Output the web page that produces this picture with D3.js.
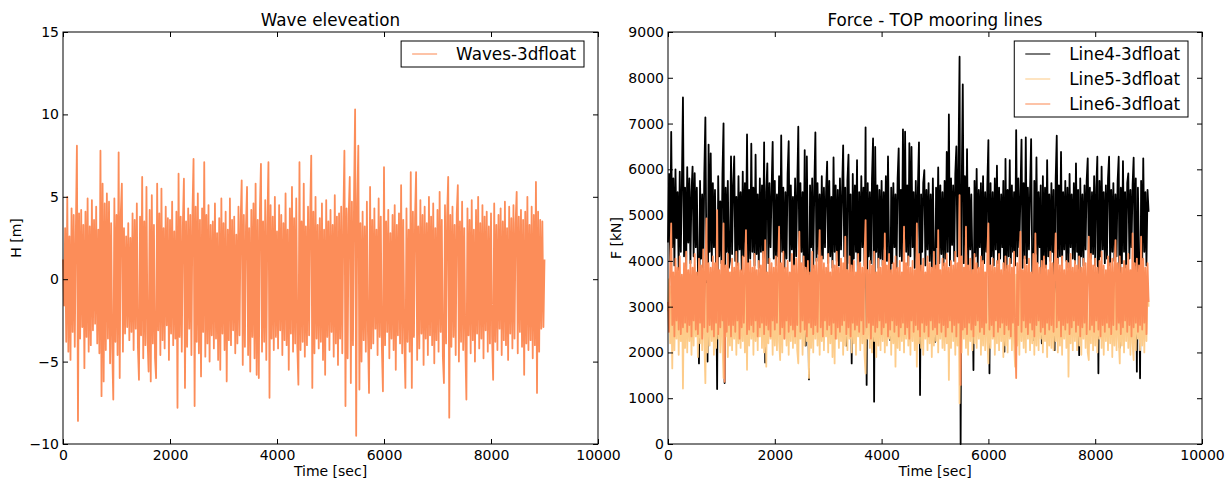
<!DOCTYPE html>
<html>
<head>
<meta charset="utf-8">
<script src="https://cdn.jsdelivr.net/npm/d3@7"></script>
<style>
  body { margin: 0; background: #fff; }
  svg { font-family: "DejaVu Sans", sans-serif; }
</style>
</head>
<body>
<svg id="chart" width="1227" height="481"></svg>
<script>
"use strict";

// sample interval of all records [sec]
const DT = 20;

const timeTicks = [0, 2000, 4000, 6000, 8000, 10000];
const waveTicks = [-10, -5, 0, 5, 10, 15];
const forceTicks = [0, 1000, 2000, 3000, 4000, 5000, 6000, 7000, 8000, 9000];

// wave elevation [m]
const waveH = [
  1.2,-1.6,3.1,-3.8,5.0,-4.4,2.6,-4.9,4.3,-3.2,3.9,-4.1,2.8,8.1,-8.6,4.0,-3.6,4.2,-2.9,3.3,
  -5.4,4.1,-3.5,4.9,-4.4,3.2,-4.0,4.8,-3.1,3.6,-2.7,4.4,-3.9,3.0,-4.5,7.8,-7.1,5.8,-6.2,4.6,
  -4.3,5.2,-3.6,4.7,-5.1,3.4,-4.2,-7.3,4.9,-3.8,3.9,-4.6,7.7,-6.0,4.0,5.8,-4.4,3.1,-3.3,2.6,
  -2.9,3.4,-3.7,2.5,-3.2,4.0,-4.3,3.6,-3.0,4.6,-4.1,-6.1,3.8,-3.4,6.2,-4.8,3.5,-4.0,5.6,-3.6,
  -5.6,4.2,-6.2,5.1,-3.9,3.3,-4.8,-6.0,5.8,-3.1,4.0,-4.6,5.5,-3.7,3.1,-4.2,4.4,-2.8,3.7,-4.9,
  3.6,-3.3,4.7,-4.0,2.9,-3.6,4.1,-7.8,6.4,-3.5,3.8,-4.4,3.2,6.1,-6.6,3.5,-4.1,4.3,-3.0,3.9,
  -4.6,4.0,7.3,-7.7,4.4,-3.8,5.2,-4.5,3.6,-5.9,4.3,-3.2,7.1,-4.7,3.9,-3.9,4.5,-5.0,3.3,-3.4,
  3.5,-4.2,4.6,-3.6,2.8,-4.9,3.7,-5.5,4.9,-3.3,3.4,-4.3,4.1,-6.2,3.0,-3.7,4.9,-4.0,3.6,-3.1,
  3.8,-4.5,2.7,-3.9,4.4,-3.4,3.5,6.0,-5.2,3.9,-4.1,3.2,5.6,-4.6,3.1,-5.6,4.2,-3.5,4.6,-4.8,
  5.8,-5.8,3.6,-6.0,4.1,7.0,-4.4,3.5,-3.8,4.8,-4.9,3.3,7.1,-7.2,4.5,-3.6,3.8,-4.3,5.0,-3.5,
  2.9,-4.2,4.5,-3.1,3.9,-4.6,3.4,-3.7,5.2,-4.0,3.0,-5.5,4.3,-3.3,5.6,-4.4,3.7,-3.9,4.9,-4.1,
  -6.4,7.1,-4.3,3.5,-3.8,5.8,-4.7,3.2,-4.0,4.4,-3.4,3.9,7.5,-6.6,4.1,-4.5,5.0,-3.6,3.3,-4.2,
  3.7,-3.8,4.6,-4.9,3.0,-5.8,4.8,-3.5,3.5,-4.3,4.2,-3.2,3.3,-4.7,5.1,-3.9,3.8,-5.2,4.0,-3.6,
  4.4,-4.5,3.6,7.8,-7.7,4.3,-4.8,3.9,6.2,-6.3,4.7,-4.0,5.0,10.3,-9.5,4.6,8.1,-6.7,3.4,-5.0,
  4.1,-3.7,3.2,-4.4,4.7,-3.3,-6.9,5.6,-4.2,3.6,-3.9,4.3,-3.0,3.0,-4.6,4.9,-3.5,3.8,-4.1,-6.8,
  6.8,-4.0,3.5,-3.2,4.2,-4.8,2.8,-3.6,3.9,-4.3,4.5,-5.5,3.3,-3.4,4.0,-3.9,5.7,-4.5,3.6,-3.7,
  -6.6,4.3,-3.8,3.0,-4.4,6.5,-6.6,4.1,-3.5,3.7,6.5,-4.9,3.2,-4.2,4.8,-3.3,3.9,-5.2,4.4,-3.6,
  3.4,-4.6,5.0,-3.4,3.8,-4.0,4.6,-5.1,3.1,-3.7,4.2,-4.4,5.3,-3.2,3.6,-4.7,-6.3,4.5,-3.9,3.8,
  6.2,-8.4,3.9,-4.1,4.4,-3.5,3.3,-4.6,4.0,5.7,-5.0,3.5,-3.8,4.7,-4.3,3.1,-3.9,-7.3,4.3,-3.4,
  3.6,-4.5,4.8,-3.7,3.0,-5.0,4.2,-3.3,5.0,-4.2,3.4,-3.6,4.5,-4.8,3.8,-3.1,4.1,-4.4,3.2,-3.9,
  4.0,-3.5,-6.1,4.6,-3.8,3.3,-4.3,3.9,-3.0,4.3,-4.6,3.5,-3.7,4.7,-4.0,3.1,-4.9,4.4,-3.3,3.7,
  -4.2,4.5,-3.6,3.4,5.3,-4.5,3.8,-3.2,4.2,-4.1,3.6,-5.8,4.1,-3.9,5.0,-4.3,3.3,-3.7,4.4,-4.8,
  3.9,-4.0,5.9,-6.9,4.1,-4.4,3.6,-3.0,3.5,-2.9,1.2
];

// top tension of mooring line 4 [kN]
const line4F = [
  4400,5900,4000,6820,4300,5800,3900,6000,4500,5500,3800,5950,4200,5700,7570,4100,5600,3850,6050,4400,
  5800,3950,5500,6060,4100,5915,4300,5600,3900,1760,5750,4050,5450,3850,5900,7135,3900,1800,6540,4200,
  6350,4000,5700,4300,5550,3900,1200,5850,4100,5300,3950,5900,7004,1330,5600,4200,5750,3850,4000,6280,
  4150,5650,6280,4000,5400,3900,5850,4250,5500,3800,5950,4100,5700,4300,6763,3950,5550,4050,6560,4200,
  5600,3900,6320,4150,5450,3850,5800,4200,5650,4000,6590,1780,5500,6130,3950,5700,4300,5550,6600,4050,
  5750,3900,5450,4100,5850,3950,6740,4200,5600,3850,5500,4050,5900,6613,4000,5650,4250,5400,3900,5800,
  4100,5550,6930,3950,5700,4200,5500,3900,6420,2150,6280,4050,1410,5650,4300,5800,3850,5600,6807,4000,
  5700,4150,5450,3900,5850,4050,5600,4300,5500,6170,3950,5750,4100,5400,3850,6260,4200,5650,4000,5550,
  3900,5800,4250,5500,6525,4100,5600,2150,5750,6320,3950,5450,1760,5900,4050,5650,4200,6200,2510,5500,
  4000,5850,4300,5600,3900,6917,1290,5700,4100,5500,3950,5800,6675,925,6490,4200,5650,3850,5550,4050,
  5750,3900,5500,4250,5850,4000,6280,4150,2270,5600,3950,5700,4300,5450,3850,5800,6460,4100,5550,4000,
  6873,3950,6821,4200,5650,3900,6570,4100,6490,4300,5500,3850,5750,4050,5600,6590,1070,5450,4200,5700,
  5980,3900,5550,4250,5700,4000,5450,3850,5800,4100,2230,5600,4300,6040,3950,5650,4150,5500,3900,5750,
  4050,6380,4200,7200,3900,5800,4350,5650,4000,5900,6500,4100,6200,8460,0,5600,7857,3950,5850,4200,
  6440,3900,5600,4250,5450,3950,1616,5750,4100,6010,3850,5550,4300,5700,4000,5850,3950,5500,4200,5650,
  6640,1543,5700,4100,5500,3900,5800,4250,6080,3950,5600,4050,5450,4300,5750,2016,6230,3850,5550,4100,
  6200,3950,5650,4200,5500,3900,6858,4100,5800,4300,5450,6650,3850,5700,4050,6698,3950,5600,4250,5550,
  6661,3900,2270,5750,4150,6260,3950,5500,4300,5650,2200,5850,4050,5600,3850,6200,4100,5450,4000,5700,
  4200,5550,2050,5800,6734,3950,5650,4100,6380,3900,5500,4250,5750,4000,5600,3850,5900,4300,5450,4050,
  5700,3950,6130,4200,5550,1940,5800,4100,5450,3900,5650,4250,5750,6240,3850,5600,4050,5500,4150,5850,
  3900,5600,6275,1543,5750,4100,6060,4250,5500,3950,5650,4050,5800,6275,3900,5550,4200,5700,4000,5450,
  4100,5750,6275,2100,5600,3950,6180,4200,5500,3850,5700,5910,4050,5550,4300,5650,6253,3900,5800,1580,
  5600,4100,1435,5750,3950,6240,4200,5500,3900,5550,5070
];

// top tension of mooring line 5 [kN]
const line5F = [
  2900,3600,2200,3450,1650,3700,2050,3350,2300,3800,1950,3500,2250,3650,1210,3400,2100,3750,2000,3550,
  2250,3300,1950,3700,2150,3550,2350,3450,1900,3800,2200,3350,2050,3650,2300,1330,3500,2000,3750,2150,
  3400,2250,3600,1950,3550,2100,3800,2300,3450,2000,3700,2200,1440,3350,2350,3650,1900,3500,2150,3750,
  2050,3450,2300,3600,1950,3550,2200,3750,2100,3400,2250,3650,2000,3500,1620,3800,2150,3350,2300,3600,
  1950,3700,2250,3450,2050,3550,2350,3800,2100,3400,2000,3650,1690,3500,2200,3750,2300,3350,1950,3600,
  2150,3450,2050,3700,2250,1834,3550,2000,3800,2300,3400,2150,3650,1950,3500,2250,3750,2100,3350,2200,
  3600,2050,1760,3500,2300,3700,1950,3450,2150,3800,2250,3550,1440,3650,2100,3400,2000,3750,2300,3500,
  2150,3600,1950,3450,2250,3800,2050,3550,2350,3400,2000,3700,2200,3650,1900,3500,1760,3750,2300,3350,
  2100,3550,2250,3700,1950,3450,2150,3800,2050,3600,2300,3400,2000,3650,2200,3500,1950,3750,2350,3450,
  2050,3700,2200,3550,1950,1540,3800,2300,3450,2100,3650,2000,3500,2250,3400,1900,3750,2150,3600,2050,
  3550,2250,3700,2000,3450,2150,3800,2300,3600,1950,3500,2200,3650,1690,3400,2100,3750,2050,3550,2250,
  3650,2000,3500,2300,3800,2150,3450,1950,3700,2250,3550,2050,3600,1690,3400,2200,3750,2100,3500,1950,
  3700,2300,3450,2050,3800,2200,3550,1900,3650,2150,3400,2250,3750,2000,3500,2300,3600,2100,3450,2050,
  3750,2200,3500,1400,3650,2100,3800,2250,3450,1950,3600,2150,3900,890,3550,2000,3700,2300,3450,2100,
  3550,1950,3700,2250,3450,2050,3800,2200,3600,2100,3500,2300,3650,1950,3400,2150,3750,2050,3550,2250,
  1760,3650,2100,3500,2300,3800,1950,3450,2200,3700,2050,3550,2250,3600,1900,3400,2150,3750,2000,3500,
  2300,3650,2050,3450,2200,1690,3700,2150,3550,1950,3800,2250,3400,2100,3600,2000,3750,2300,3500,2050,
  3450,2200,3700,1950,3550,2150,3800,2050,3400,2300,3650,2000,3500,2250,3750,1900,3600,2150,3450,2100,
  3700,2050,3550,2250,3400,2000,3800,2150,3650,1950,3500,2300,3600,2100,3750,1470,3450,2200,3700,2050,
  3550,2250,3400,2050,3800,2150,3600,1950,3700,2300,3450,2100,3650,2000,1834,3500,2200,3750,2050,3550,
  2150,3650,2000,3450,2300,3800,2100,3550,1950,3700,2250,3400,2050,3600,2200,3750,1900,3500,2150,3650,
  2050,3450,2300,1760,3700,2150,3550,2000,3800,2250,3400,2100,3650,1950,3500,2200,1834,3750,2050,3600,
  2300,3450,2050,3700,2150,3550,2000,3800,2250,3500,3000
];

// top tension of mooring line 6 [kN]
const line6F = [
  3100,2450,3900,4820,2600,3750,2350,4050,2700,3850,2500,4100,2400,3700,2550,3950,2650,4200,2450,3800,
  2600,4000,2350,3850,2700,4150,2500,3750,2400,4050,2650,3900,2300,4250,2550,3800,4928,2450,3950,2600,
  3850,2500,4100,2350,3950,2650,5110,2400,3800,2550,4000,2700,4819,1360,3900,2450,4150,2600,3750,2350,
  4050,2600,3850,2450,4200,2700,3950,2300,3800,2550,4100,2650,3700,4673,2400,3950,2500,4000,2600,3850,
  2450,4150,2700,3800,2350,4000,2550,3900,2650,4200,2400,4455,2600,3750,2500,4050,2350,3950,2700,3850,
  2500,4100,2650,3800,4746,2400,3950,2550,4200,2300,3850,2700,4000,2450,3750,2600,4150,2500,3900,2350,
  4050,2600,3800,4637,2450,3950,2700,4100,2500,3850,2350,4000,2650,3750,2550,4200,2400,3900,2600,4050,
  2450,3800,4673,2550,4100,2350,3950,2700,3850,2500,4150,2600,3750,2400,4000,2650,3900,2300,4200,2550,
  3850,2450,4050,2600,3950,2700,4528,2400,3800,2550,4100,2350,3900,2650,4000,2500,3750,2600,4150,2450,
  3950,2700,3850,2400,4100,4892,2550,3800,2650,4000,2300,3900,2600,4200,2450,3750,2550,4050,2700,3850,
  2400,4000,2550,4600,2650,3900,2350,4150,2500,3800,2700,3950,2450,4100,2600,3850,2350,4000,2550,3750,
  2650,4746,2400,3950,2550,4100,2300,3850,2700,4000,2450,3800,2600,4819,2500,4150,2350,3900,2650,4050,
  2450,3750,2600,4100,2350,3950,2700,3850,2500,4200,2550,3900,2400,4673,2650,3800,2450,4050,2600,3950,
  2350,4150,2550,3850,2700,4000,2450,3900,2600,4200,2350,3950,2650,5438,1290,4100,2500,3850,2550,4746,
  2400,3900,2650,4050,2500,3800,2350,4150,2600,3950,2700,3850,2450,4100,2550,4000,2400,3750,2650,4200,
  4819,2500,3900,2600,4050,2350,3850,2700,4000,2450,4150,2550,3800,2650,3950,2400,4100,2600,3900,2500,
  4050,2350,3850,2650,4200,2500,1440,3950,2600,4000,4637,2450,3800,2700,4100,2550,3900,2400,4050,2650,
  3750,2500,4150,2350,4600,2600,3950,2700,3850,2450,4000,2550,4100,2400,3900,2650,3800,2500,4200,2600,
  3950,2450,3850,4600,2550,4050,2700,3900,2350,4100,2600,3800,2500,4000,2650,3950,2400,4150,2550,3850,
  2700,4000,2450,3900,2600,4100,2350,3850,2550,4050,2650,3950,2400,3800,4528,2500,4150,2600,3900,2450,
  4050,2700,3850,2500,4000,2350,4200,2600,3900,2450,3800,2650,4100,2550,3950,2400,4050,2600,3850,4455,
  2500,3950,2650,4100,2400,3850,2550,4000,2700,3900,2450,4150,2600,3800,2350,4600,2550,3950,2650,4050,
  2450,3900,2600,4528,2500,4050,2650,3850,2400,3950,3100
];

const ORANGE = "#fc8d59";
const LIGHT = "#fdcc8a";

const svg = d3.select("#chart");
const PLOT_TOP = 32;
const PLOT_BOTTOM = 444;

function drawPanel(opts) {
  const g = svg.append("g");
  const x = d3.scaleLinear().domain([0, 10000]).range([opts.left, opts.right]);
  const y = d3.scaleLinear().domain(opts.yDomain).range([PLOT_BOTTOM, PLOT_TOP]);

  const line = d3.line()
    .x((d, i) => x(i * DT))
    .y(d => y(d));

  // dense records: a slightly wider stroke keeps the band solid like the original raster
  opts.series.forEach(s => {
    g.append("path")
      .datum(s.values)
      .attr("d", line)
      .attr("fill", "none")
      .attr("stroke", s.color)
      .attr("stroke-width", 1.8)
      .attr("stroke-linejoin", "round");
  });

  // axes with inward ticks on all four sides
  const fmt = d3.format("d");
  const bottom = g.append("g")
    .attr("transform", `translate(0,${PLOT_BOTTOM})`)
    .call(d3.axisBottom(x).tickValues(timeTicks).tickSize(-5).tickPadding(6).tickFormat(fmt));
  const top = g.append("g")
    .attr("transform", `translate(0,${PLOT_TOP})`)
    .call(d3.axisTop(x).tickValues(timeTicks).tickSize(-5).tickFormat(""));
  const left = g.append("g")
    .attr("transform", `translate(${opts.left},0)`)
    .call(d3.axisLeft(y).tickValues(opts.yTicks).tickSize(-5).tickPadding(4).tickFormat(d3.format("")));
  const right = g.append("g")
    .attr("transform", `translate(${opts.right},0)`)
    .call(d3.axisRight(y).tickValues(opts.yTicks).tickSize(-5).tickFormat(""));

  [bottom, top, left, right].forEach(a => {
    a.select(".domain").remove();
    a.selectAll("line").attr("stroke", "#000");
    a.selectAll("text")
      .attr("fill", "#000")
      .style("font-family", "DejaVu Sans")
      .style("font-size", "14px");
  });

  g.append("rect")
    .attr("x", opts.left)
    .attr("y", PLOT_TOP)
    .attr("width", opts.right - opts.left)
    .attr("height", PLOT_BOTTOM - PLOT_TOP)
    .attr("fill", "none")
    .attr("stroke", "#000")
    .attr("stroke-width", 1);

  const cx = (opts.left + opts.right) / 2;
  g.append("text")
    .attr("x", cx).attr("y", 26)
    .attr("text-anchor", "middle")
    .style("font-size", "16.8px")
    .text(opts.title);

  g.append("text")
    .attr("x", cx).attr("y", 476)
    .attr("text-anchor", "middle")
    .style("font-size", "14px")
    .text("Time [sec]");

  g.append("text")
    .attr("transform", `translate(${opts.ylabelX},${(PLOT_TOP + PLOT_BOTTOM) / 2}) rotate(-90)`)
    .attr("text-anchor", "middle")
    .style("font-size", "14px")
    .text(opts.ylabel);

  drawLegend(g, opts.series, opts.right - 14, PLOT_TOP + 9);
}

function drawLegend(g, items, rightX, topY) {
  const lg = g.append("g");
  const box = lg.append("rect");
  const rows = lg.selectAll("g.row")
    .data(items)
    .join("g")
    .attr("class", "row");

  const texts = rows.append("text")
    .style("font-size", "16.8px")
    .text(d => d.name);

  const maxW = d3.max(texts.nodes(), n => n.getComputedTextLength());
  const width = 11 + 25 + 19 + maxW + 8;
  const height = 1 + 25 * items.length;
  const x0 = rightX - width;

  box.attr("x", x0).attr("y", topY)
    .attr("width", width).attr("height", height)
    .attr("fill", "#fff").attr("stroke", "#000").attr("stroke-width", 1);

  rows.attr("transform", (d, i) => `translate(${x0},${topY + 13 + i * 25})`);
  rows.append("line")
    .attr("x1", 11).attr("x2", 36)
    .attr("stroke", d => d.color)
    .attr("stroke-opacity", 0.7)
    .attr("stroke-width", 1.5);
  texts.attr("x", 55).attr("y", 6);
}

drawPanel({
  left: 63, right: 598,
  yDomain: [-10, 15], yTicks: waveTicks,
  title: "Wave eleveation", ylabel: "H [m]", ylabelX: 21,
  series: [{ name: "Waves-3dfloat", values: waveH, color: ORANGE }]
});

drawPanel({
  left: 668, right: 1202,
  yDomain: [0, 9000], yTicks: forceTicks,
  title: "Force - TOP mooring lines", ylabel: "F [kN]", ylabelX: 621,
  series: [
    { name: "Line4-3dfloat", values: line4F, color: "#000" },
    { name: "Line5-3dfloat", values: line5F, color: LIGHT },
    { name: "Line6-3dfloat", values: line6F, color: ORANGE }
  ]
});
</script>
</body>
</html>
